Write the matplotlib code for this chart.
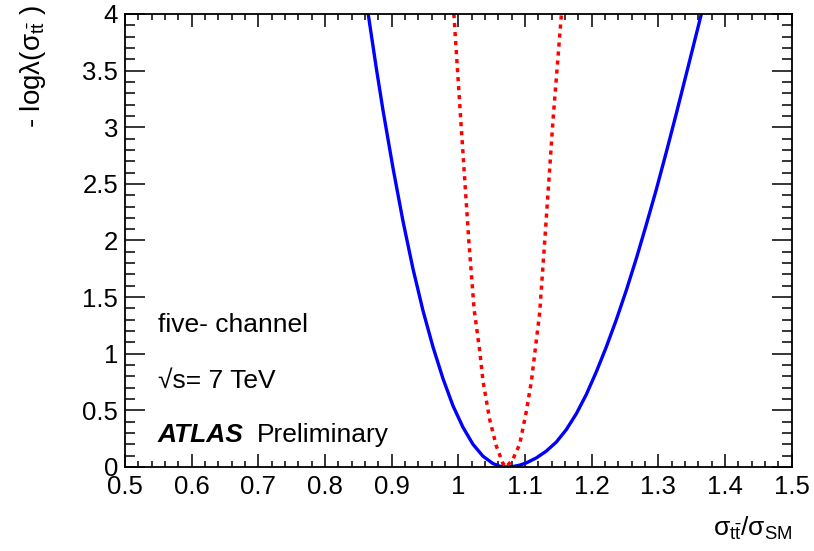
import matplotlib
matplotlib.use("Agg")
import matplotlib.pyplot as plt
from matplotlib.ticker import MultipleLocator

plt.rcParams['font.family'] = ['Liberation Sans', 'DejaVu Sans']
plt.rcParams['mathtext.fontset'] = 'custom'
plt.rcParams['mathtext.rm'] = 'Liberation Sans'
plt.rcParams['mathtext.it'] = 'Liberation Sans:italic'
plt.rcParams['mathtext.bf'] = 'Liberation Sans:bold'

# Blue curve (five-channel combined likelihood)
blue_x = [0.8648, 0.877, 0.887, 0.902, 0.917, 0.932, 0.947, 0.962, 0.977, 0.992,
          1.007, 1.022, 1.037, 1.052, 1.062,
          1.072, 1.082, 1.092, 1.102, 1.117, 1.132, 1.147, 1.162, 1.177, 1.192,
          1.207, 1.222, 1.237, 1.252, 1.267, 1.282, 1.297, 1.312, 1.327, 1.342, 1.3646]
blue_y = [4.0, 3.52, 3.15, 2.64, 2.17, 1.75, 1.38, 1.06, 0.78, 0.54,
          0.35, 0.20, 0.095, 0.03, 0.007,
          0.0, 0.004, 0.016, 0.036, 0.08, 0.14, 0.22, 0.33, 0.47, 0.64,
          0.84, 1.06, 1.30, 1.56, 1.84, 2.14, 2.45, 2.78, 3.12, 3.47, 4.0]

# Red dotted curve
red_x = [0.9933, 1.0037, 1.0157, 1.0237, 1.032, 1.037, 1.047, 1.057, 1.067, 1.072,
         1.082, 1.092, 1.102, 1.1097, 1.122, 1.1297, 1.142, 1.1547]
red_y = [4.0, 3.06, 2.0, 1.39, 1.03, 0.76, 0.42, 0.185, 0.03, 0.0,
         0.07, 0.2, 0.49, 0.76, 1.36, 2.0, 3.06, 4.0]

x_ticks = [0.5, 0.6, 0.7, 0.8, 0.9, 1.0, 1.1, 1.2, 1.3, 1.4, 1.5]
x_ticklabels = ['0.5', '0.6', '0.7', '0.8', '0.9', '1', '1.1', '1.2', '1.3', '1.4', '1.5']
y_ticks = [0, 0.5, 1, 1.5, 2, 2.5, 3, 3.5, 4]
y_ticklabels = ['0', '0.5', '1', '1.5', '2', '2.5', '3', '3.5', '4']

fig = plt.figure(figsize=(8.14, 5.51), dpi=100)
ax = fig.add_axes([0.1536, 0.1525, 0.8189, 0.8221])

ax.plot(blue_x, blue_y, color='#0000ff', lw=2.4, solid_joinstyle='round')
ax.plot(red_x, red_y, color='#ff0000', lw=2.5, linestyle=(0, (1.2, 1.4)))

ax.set_xlim(0.5, 1.5)
ax.set_ylim(0, 4)
ax.set_xticks(x_ticks)
ax.set_xticklabels(x_ticklabels)
ax.set_yticks(y_ticks)
ax.set_yticklabels(y_ticklabels)
ax.xaxis.set_minor_locator(MultipleLocator(0.02))
ax.yaxis.set_minor_locator(MultipleLocator(0.1))

ax.tick_params(axis='x', which='major', direction='in', length=9.4, width=1.1,
               top=True, bottom=True, labelsize=18.5, pad=6)
ax.tick_params(axis='x', which='minor', direction='in', length=4.5, width=1.1,
               top=True, bottom=True)
ax.tick_params(axis='y', which='major', direction='in', length=14.4, width=1.1,
               left=True, right=True, labelsize=18.5, pad=5)
ax.tick_params(axis='y', which='minor', direction='in', length=7.2, width=1.1,
               left=True, right=True)
for s in ax.spines.values():
    s.set_linewidth(1.3)

fs = 19
ax.text(0.5495, 1.19, 'five- channel', fontsize=fs, va='baseline', ha='left')
ax.text(0.5495, 0.70, '\u221as= 7 TeV', fontsize=fs, va='baseline', ha='left')
ax.text(0.5495, 0.224, 'ATLAS', fontsize=fs, va='baseline', ha='left',
        fontweight='bold', fontstyle='italic')
ax.text(0.698, 0.224, 'Preliminary', fontsize=fs, va='baseline', ha='left')

fig.text(793 / 814, 0.027,
         r'$\mathrm{\sigma}_{\mathrm{t\bar{t}}}/\mathrm{\sigma}_{\mathrm{SM}}$',
         fontsize=fs, ha='right', va='baseline')
fig.text(0.041, 1 - 5 / 551,
         r'- log$\mathrm{\lambda}$($\mathrm{\sigma}_{\mathrm{t\bar{t}}}$ )',
         fontsize=20, ha='center', va='top', rotation=90)

fig.savefig('out.png', dpi=100)
